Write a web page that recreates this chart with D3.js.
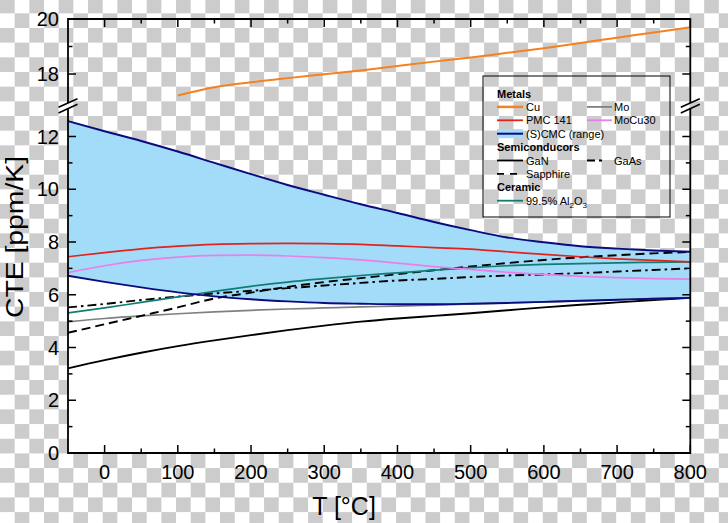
<!DOCTYPE html>
<html>
<head>
<meta charset="utf-8">
<script src="https://cdn.jsdelivr.net/npm/d3@7/dist/d3.min.js"></script>
<style>
  html, body { margin: 0; padding: 0; background: #fff; }
  svg { display: block; font-family: "Liberation Sans", Arial, sans-serif; }
</style>
</head>
<body>
<svg id="chart" width="728" height="523"></svg>
<script>
// ---------------- data ----------------
const temps = [-50, 0, 50, 100, 150, 200, 250, 300, 350, 400, 450, 500, 550, 600, 650, 700, 750, 800];
const scmcMax = [12.58, 12.2, 11.83, 11.43, 11.0, 10.57, 10.16, 9.79, 9.43, 9.1, 8.76, 8.45, 8.17, 7.99, 7.84, 7.75, 7.68, 7.63];
const scmcMin = [6.72, 6.49, 6.28, 6.09, 5.94, 5.83, 5.75, 5.69, 5.66, 5.64, 5.64, 5.66, 5.69, 5.73, 5.77, 5.81, 5.85, 5.88];
const pmc141  = [7.44, 7.6, 7.74, 7.84, 7.91, 7.94, 7.95, 7.94, 7.91, 7.85, 7.79, 7.73, 7.63, 7.53, 7.44, 7.36, 7.3, 7.25];
const mocu30  = [6.84, 7.1, 7.3, 7.43, 7.49, 7.5, 7.47, 7.41, 7.32, 7.2, 7.07, 6.96, 6.85, 6.77, 6.7, 6.65, 6.61, 6.59];
const al2o3   = [5.31, 5.5, 5.71, 5.92, 6.13, 6.32, 6.48, 6.61, 6.73, 6.83, 6.93, 7.03, 7.1, 7.15, 7.18, 7.21, 7.23, 7.25];
const gaas    = [5.52, 5.65, 5.8, 5.93, 6.05, 6.15, 6.25, 6.35, 6.45, 6.54, 6.6, 6.67, 6.73, 6.77, 6.82, 6.88, 6.94, 7.0];
const sapphire= [4.56, 4.88, 5.2, 5.52, 5.86, 6.08, 6.3, 6.48, 6.63, 6.78, 6.93, 7.07, 7.2, 7.32, 7.42, 7.5, 7.57, 7.62];
const mo      = [4.97, 5.1, 5.2, 5.28, 5.35, 5.41, 5.46, 5.5, 5.54, 5.57, 5.61, 5.65, 5.69, 5.73, 5.77, 5.81, 5.85, 5.89];
const gan     = [3.21, 3.52, 3.8, 4.05, 4.27, 4.47, 4.66, 4.83, 4.98, 5.1, 5.2, 5.3, 5.41, 5.52, 5.62, 5.71, 5.8, 5.88];
const cuTemps = [100, 150, 200, 250, 300, 350, 400, 450, 500, 550, 600, 650, 700, 750, 800];
const cu      = [17.22, 17.52, 17.7, 17.85, 17.99, 18.13, 18.29, 18.45, 18.6, 18.77, 18.94, 19.13, 19.32, 19.51, 19.7];

const xMajor = [0, 100, 200, 300, 400, 500, 600, 700, 800];
const xMinor = [50, 150, 250, 350, 450, 550, 650, 750];
const yLowMajor = [0, 2, 4, 6, 8, 10, 12];
const yLowMinor = [1, 3, 5, 7, 9, 11];
const yHighMajor = [18, 20];
const yHighMinor = [19];
const xDomain = [-50, 800];

// ---------------- setup ----------------
const svg = d3.select("#chart");
const W = 728, H = 523;
const pL = 68, pR = 690.3, pT = 19, pB = 453;

const x = d3.scaleLinear().domain(xDomain).range([pL, pR]);
const yLow = d3.scaleLinear().domain([0, 12]).range([pB, 136.5]);
const yHigh = d3.scaleLinear().domain([18, 20]).range([74, pT]);

// checkerboard background
const cell = 14.67;
const defs = svg.append("defs");
const pat = defs.append("pattern").attr("id", "checker")
  .attr("patternUnits", "userSpaceOnUse")
  .attr("x", 0).attr("y", -1.36)
  .attr("width", cell * 2).attr("height", cell * 2);
pat.append("rect").attr("width", cell * 2).attr("height", cell * 2).attr("fill", "#ffffff");
pat.append("rect").attr("x", 0).attr("y", 0).attr("width", cell).attr("height", cell).attr("fill", "#cccccc");
pat.append("rect").attr("x", cell).attr("y", cell).attr("width", cell).attr("height", cell).attr("fill", "#cccccc");
svg.append("rect").attr("width", W).attr("height", H).attr("fill", "url(#checker)");

const rows = temps.map((t, i) => ({
  t, max: scmcMax[i], min: scmcMin[i], pmc: pmc141[i], mocu: mocu30[i],
  al: al2o3[i], gaas: gaas[i], sap: sapphire[i], mo: mo[i], gan: gan[i]
}));

const curve = d3.curveMonotoneX;

// white area below lower band edge
svg.append("path").datum(rows)
  .attr("fill", "#ffffff")
  .attr("d", d3.area().curve(curve).x(d => x(d.t)).y0(yLow(0)).y1(d => yLow(d.min)));

// band
svg.append("path").datum(rows)
  .attr("fill", "#a3dcf8")
  .attr("d", d3.area().curve(curve).x(d => x(d.t)).y0(d => yLow(d.min)).y1(d => yLow(d.max)));

const navy = "#0b0b7e";
function drawLine(key, color, width, dash) {
  const p = svg.append("path").datum(rows)
    .attr("fill", "none").attr("stroke", color).attr("stroke-width", width)
    .attr("d", d3.line().curve(curve).x(d => x(d.t)).y(d => yLow(d[key])));
  if (dash) p.attr("stroke-dasharray", dash);
  return p;
}

drawLine("gan", "#000000", 1.9);
drawLine("mo", "#808080", 1.7);
drawLine("sap", "#000000", 1.9, "9,5");
drawLine("gaas", "#000000", 1.9, "9,4,2.5,4");
drawLine("al", "#0f7d73", 1.7);
drawLine("mocu", "#ea7fea", 1.7);
drawLine("pmc", "#e2231d", 1.7);
drawLine("min", navy, 1.9);
drawLine("max", navy, 1.9);

// Cu
svg.append("path").datum(cuTemps.map((t, i) => ({ t, v: cu[i] })))
  .attr("fill", "none").attr("stroke", "#f5821f").attr("stroke-width", 2)
  .attr("d", d3.line().curve(curve).x(d => x(d.t)).y(d => yHigh(d.v)));

// ---------------- frame & ticks ----------------
const frame = svg.append("g").attr("stroke", "#000").attr("fill", "none");
const bTop = yHigh(17), bBot = yLow(13);
const mid = (bTop + bBot) / 2;
const s1 = mid - 2.8, s2 = mid + 2.8;
frame.append("line").attr("x1", pL).attr("x2", pR).attr("y1", pT).attr("y2", pT).attr("stroke-width", 1.8);
frame.append("line").attr("x1", pL).attr("x2", pR).attr("y1", pB).attr("y2", pB).attr("stroke-width", 1.8);
[pL, pR].forEach(xx => {
  frame.append("line").attr("x1", xx).attr("x2", xx).attr("y1", pT - 0.9).attr("y2", s1).attr("stroke-width", 1.8);
  frame.append("line").attr("x1", xx).attr("x2", xx).attr("y1", s2).attr("y2", pB + 0.9).attr("stroke-width", 1.8);
  [s1, s2].forEach(sy => {
    frame.append("line").attr("x1", xx - 9.5).attr("y1", sy + 4.3)
      .attr("x2", xx + 9.5).attr("y2", sy - 4.3).attr("stroke-width", 1.6);
  });
});

xMajor.forEach(t => {
  frame.append("line").attr("x1", x(t)).attr("x2", x(t)).attr("y1", pB).attr("y2", pB - 8).attr("stroke-width", 1.5);
  frame.append("line").attr("x1", x(t)).attr("x2", x(t)).attr("y1", pT).attr("y2", pT + 8).attr("stroke-width", 1.5);
});
xMinor.forEach(t => {
  frame.append("line").attr("x1", x(t)).attr("x2", x(t)).attr("y1", pB).attr("y2", pB - 4.5).attr("stroke-width", 1.5);
  frame.append("line").attr("x1", x(t)).attr("x2", x(t)).attr("y1", pT).attr("y2", pT + 4.5).attr("stroke-width", 1.5);
});
function yTick(yy, len) {
  frame.append("line").attr("x1", pL).attr("x2", pL + len).attr("y1", yy).attr("y2", yy).attr("stroke-width", 1.5);
  frame.append("line").attr("x1", pR).attr("x2", pR - len).attr("y1", yy).attr("y2", yy).attr("stroke-width", 1.5);
}
yLowMajor.forEach(v => yTick(yLow(v), 8));
yLowMinor.forEach(v => yTick(yLow(v), 4.5));
yHighMajor.forEach(v => yTick(yHigh(v), 8));
yHighMinor.forEach(v => yTick(yHigh(v), 4.5));

// tick labels
const lab = svg.append("g").attr("fill", "#000").attr("font-size", 20);
xMajor.forEach(t => {
  lab.append("text").attr("x", x(t)).attr("y", pB + 26).attr("text-anchor", "middle").text(t);
});
yLowMajor.forEach(v => {
  lab.append("text").attr("x", 59).attr("y", yLow(v) + 7).attr("text-anchor", "end").text(v);
});
yHighMajor.forEach(v => {
  lab.append("text").attr("x", 59).attr("y", yHigh(v) + 7).attr("text-anchor", "end").text(v);
});

// axis titles
svg.append("text").attr("x", 344).attr("y", 515).attr("text-anchor", "middle")
  .attr("font-size", 25).text("T [°C]");
svg.append("text").attr("transform", "translate(23,237) rotate(-90) scale(1.18,1)").attr("text-anchor", "middle")
  .attr("font-size", 24).text("CTE [ppm/K]");

// ---------------- legend ----------------
const lg = svg.append("g").attr("font-size", 11);
lg.append("rect").attr("x", 483).attr("y", 76).attr("width", 187).attr("height", 141)
  .attr("fill", "none").attr("stroke", "#000").attr("stroke-width", 1);
const rowY = i => 93.5 + i * 13.4;
const c1a = 497, c1b = 523, t1 = 526, c2a = 587, c2b = 612, t2 = 614;
function header(i, txt) {
  lg.append("text").attr("x", c1a).attr("y", rowY(i) + 4).attr("font-weight", "bold").text(txt);
}
function entry(i, col, txt, color, w, dash) {
  const xa = col === 1 ? c1a : c2a, xb = col === 1 ? c1b : c2b, tx = col === 1 ? t1 : t2;
  const l = lg.append("line").attr("x1", xa).attr("x2", xb).attr("y1", rowY(i)).attr("y2", rowY(i))
    .attr("stroke", color).attr("stroke-width", w);
  if (dash) l.attr("stroke-dasharray", dash);
  return lg.append("text").attr("x", tx).attr("y", rowY(i) + 4).text(txt);
}
header(0, "Metals");
entry(1, 1, "Cu", "#f5821f", 2.5);
entry(1, 2, "Mo", "#808080", 1.8);
entry(2, 1, "PMC 141", "#e2231d", 1.8);
entry(2, 2, "MoCu30", "#ea7fea", 1.8);
lg.append("rect").attr("x", c1a).attr("y", rowY(3) - 4.5).attr("width", c1b - c1a).attr("height", 9).attr("fill", "#a3dcf8");
entry(3, 1, "(S)CMC (range)", navy, 2);
header(4, "Semiconducors");
entry(5, 1, "GaN", "#000", 1.8);
lg.append("line").attr("x1", c2a).attr("x2", 604).attr("y1", rowY(5)).attr("y2", rowY(5))
  .attr("stroke", "#000").attr("stroke-width", 1.8).attr("stroke-dasharray", "8,4,3,4");
lg.append("text").attr("x", t2).attr("y", rowY(5) + 4).text("GaAs");
entry(6, 1, "Sapphire", "#000", 1.8, "7,6");
header(7, "Ceramic");
const alT = entry(8, 1, "99.5% Al", "#0f7d73", 1.8);
alT.append("tspan").attr("font-size", 8).attr("dy", 3).text("2");
alT.append("tspan").attr("dy", -3).text("O");
alT.append("tspan").attr("font-size", 8).attr("dy", 3).text("3");
</script>
</body>
</html>
